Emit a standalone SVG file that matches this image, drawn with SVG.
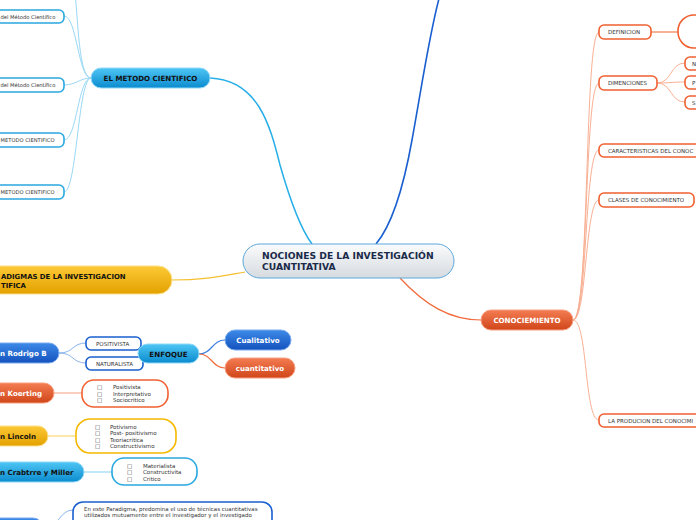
<svg xmlns="http://www.w3.org/2000/svg" width="696" height="520" viewBox="0 0 696 520">
<defs>
<linearGradient id="gLB" x1="0" y1="0" x2="0" y2="1"><stop offset="0" stop-color="#4ec6f4"/><stop offset="1" stop-color="#0b8bcf"/></linearGradient>
<linearGradient id="gDB" x1="0" y1="0" x2="0" y2="1"><stop offset="0" stop-color="#3d8ae8"/><stop offset="1" stop-color="#1452bd"/></linearGradient>
<linearGradient id="gOR" x1="0" y1="0" x2="0" y2="1"><stop offset="0" stop-color="#f47c52"/><stop offset="1" stop-color="#d0461a"/></linearGradient>
<linearGradient id="gYE" x1="0" y1="0" x2="0" y2="1"><stop offset="0" stop-color="#fcc935"/><stop offset="1" stop-color="#e3a100"/></linearGradient>
<linearGradient id="gCE" x1="0" y1="0" x2="0" y2="1"><stop offset="0" stop-color="#fafbfc"/><stop offset="1" stop-color="#d6dbe0"/></linearGradient>
</defs>
<style>
text{font-family:"DejaVu Sans",Verdana,sans-serif}
.main{font-size:7.1px;font-weight:bold;text-anchor:middle}
.lbl{font-size:7.1px;font-weight:bold}
.sub{font-size:5.5px;fill:#333}
.subs{font-size:5.2px;fill:#333}
.w{fill:#fff}
.d{fill:#111}
.sb{fill:#fff;stroke-width:1.6}
.c{fill:none}
</style>
<g id="connectors" class="c">
<path d="M312,244 C300,228 290,200 280,165 C270,125 258,80 210,78" stroke="#26aee8" stroke-width="1.5"/>
<path d="M376,244 C392,225 403,190 412,140 C422,85 430,30 440,-5" stroke="#1a5fd0" stroke-width="1.6"/>
<path d="M172,280 C205,280 222,276 245,272" stroke="#f5c030" stroke-width="1.2"/>
<path d="M400,278 C425,305 450,320 481,320" stroke="#f06a3a" stroke-width="1.2"/>
<g stroke="#9ad8f6" stroke-width="1">
<path d="M91,78 C77,78 78,0 74,-10"/>
<path d="M91,78 C78,78 77,16 64,16"/>
<path d="M91,78 C80,78 76,85 64,85"/>
<path d="M91,78 C78,78 77,140 64,140"/>
<path d="M91,78 C78,78 77,192 64,192"/>
</g>
<g stroke="#f8b094" stroke-width="1">
<path d="M573,320 C590,320 584,32 599,32"/>
<path d="M573,320 C589,320 584,83 599,83"/>
<path d="M573,320 C588,320 584,150 599,150"/>
<path d="M573,320 C587,320 585,200 599,200"/>
<path d="M573,320 C588,320 584,420 599,420"/>
<path d="M657,83 C672,83 670,63 685,63"/>
<path d="M657,83 C670,83 672,82 685,82"/>
<path d="M657,83 C672,83 670,102 685,102"/>
</g>
<path d="M651,32 L678,32" stroke="#f8b094" stroke-width="2"/>
<g stroke="#8ab4ec" stroke-width="1">
<path d="M59,353 C74,353 72,343 86,343"/>
<path d="M59,353 C74,353 72,363 86,363"/>
<path d="M45,526 C60,526 60,510 73,510"/>
</g>
<path d="M199,354 C212,354 212,340 225,340" stroke="#3a7ee0" stroke-width="1.2"/>
<path d="M199,354 C212,354 212,368 225,368" stroke="#f06a3a" stroke-width="1.2"/>
<path d="M54,393 L82,393" stroke="#f8b094" stroke-width="1.2"/>
<path d="M48,436 L76,436" stroke="#fcd870" stroke-width="1.2"/>
<path d="M84,472 L112,472" stroke="#9ad8f6" stroke-width="1.2"/>
</g>

<g id="central">
<rect x="243" y="244" width="211" height="34" rx="17" fill="url(#gCE)" stroke="#5aa8dc" stroke-width="1"/>
<text x="262" y="259" font-size="9.2" font-weight="bold" fill="#1a2a4a">NOCIONES DE LA INVESTIGACIÓN</text>
<text x="262" y="270" font-size="9.2" font-weight="bold" fill="#1a2a4a">CUANTITATIVA</text>
</g>

<g id="metodo">
<rect x="91" y="68" width="119" height="20" rx="10" fill="url(#gLB)" stroke="#8fd8f8" stroke-width="1"/>
<text class="main d" x="150.5" y="80.6">EL METODO CIENTIFICO</text>
</g>
<g id="metodo1"><rect class="sb" x="-40" y="10" width="104" height="13" rx="5" stroke="#29a8e0"/><text class="subs" x="0.5" y="18.5">del Método Científico</text></g>
<g id="metodo2"><rect class="sb" x="-40" y="78" width="104" height="14" rx="5" stroke="#29a8e0"/><text class="subs" x="0.5" y="87">del Método Científico</text></g>
<g id="metodo3"><rect class="sb" x="-40" y="133" width="104" height="14" rx="5" stroke="#29a8e0"/><text class="subs" x="0.5" y="142">METODO CIENTIFICO</text></g>
<g id="metodo4"><rect class="sb" x="-40" y="185" width="104" height="14" rx="5" stroke="#29a8e0"/><text class="subs" x="0.5" y="194">METODO CIENTIFICO</text></g>

<g id="paradigmas">
<rect x="-40" y="266" width="212" height="28" rx="14" fill="url(#gYE)" stroke="#fde08a" stroke-width="1"/>
<text class="d" x="1" y="279" font-size="6.9" font-weight="bold">ADIGMAS DE LA INVESTIGACION</text>
<text class="d" x="1" y="288" font-size="6.9" font-weight="bold">TIFICA</text>
</g>

<g id="conociemiento">
<rect x="481" y="310" width="92" height="20" rx="10" fill="url(#gOR)" stroke="#f8a080" stroke-width="1"/>
<text class="main w" x="527" y="322.5">CONOCIEMIENTO</text>
</g>
<g id="definicion"><rect class="sb" x="599" y="25" width="52" height="14" rx="5" stroke="#f06030"/><text class="sub" x="608" y="34">DEFINICION</text></g>
<g id="definicion-box"><rect class="sb" x="678" y="15" width="60" height="33" rx="16" stroke="#f06030"/></g>
<g id="dimenciones"><rect class="sb" x="599" y="76" width="58" height="14" rx="5" stroke="#f06030"/><text class="sub" x="608" y="85">DIMENCIONES</text></g>
<g id="dim1"><rect class="sb" x="685" y="57" width="30" height="13" rx="5" stroke="#f06030"/><text class="sub" x="692" y="65.5">N</text></g>
<g id="dim2"><rect class="sb" x="685" y="76" width="30" height="13" rx="5" stroke="#f06030"/><text class="sub" x="692" y="84.5">P</text></g>
<g id="dim3"><rect class="sb" x="685" y="96" width="30" height="13" rx="5" stroke="#f06030"/><text class="sub" x="692" y="104.5">S</text></g>
<g id="caracteristicas"><rect class="sb" x="599" y="144" width="120" height="13" rx="5" stroke="#f06030"/><text class="sub" x="608" y="152.5">CARACTERISTICAS DEL CONOC</text></g>
<g id="clases"><rect class="sb" x="599" y="193" width="95" height="14" rx="5" stroke="#f06030"/><text class="sub" x="608" y="202">CLASES DE CONOCIMIENTO</text></g>
<g id="produccion"><rect class="sb" x="599" y="414" width="120" height="13" rx="5" stroke="#f06030"/><text class="sub" x="608" y="422.5">LA PRODUCION DEL CONOCIMI</text></g>

<g id="rodrigo">
<rect x="-30" y="343" width="89" height="20" rx="10" fill="url(#gDB)" stroke="#7aaaf0" stroke-width="1"/>
<text class="lbl w" x="0" y="355.6">n Rodrigo B</text>
</g>
<g id="positivista"><rect class="sb" x="86" y="337" width="55" height="13" rx="5" stroke="#1a5fd0"/><text class="sub" x="96" y="345.5">POSITIVISTA</text></g>
<g id="naturalista"><rect class="sb" x="86" y="357" width="57" height="13" rx="5" stroke="#1a5fd0"/><text class="sub" x="96" y="365.5">NATURALISTA</text></g>
<g id="enfoque">
<rect x="138" y="344" width="61" height="19" rx="9.5" fill="url(#gLB)" stroke="#8fd8f8" stroke-width="1"/>
<text class="main d" x="168.5" y="356.5">ENFOQUE</text>
</g>
<g id="cualitativo">
<rect x="225" y="330" width="66" height="20" rx="10" fill="url(#gDB)" stroke="#7aaaf0" stroke-width="1"/>
<text class="main w" x="258" y="342.5">Cualitativo</text>
</g>
<g id="cuantitativo">
<rect x="225" y="358" width="70" height="20" rx="10" fill="url(#gOR)" stroke="#f8a080" stroke-width="1"/>
<text class="main w" x="260" y="370.8">cuantitativo</text>
</g>

<g id="koerting">
<rect x="-30" y="383" width="84" height="20" rx="10" fill="url(#gOR)" stroke="#f8a080" stroke-width="1"/>
<text class="lbl w" x="0" y="395.5">n Koerting</text>
</g>
<g id="koerting-list">
<rect class="sb" x="82" y="380" width="86" height="27" rx="12" stroke="#f06030"/>
<text class="sub" x="97" y="389">□</text><text class="sub" x="113" y="389">Positivista</text>
<text class="sub" x="97" y="395.5">□</text><text class="sub" x="113" y="395.5">Interpretativo</text>
<text class="sub" x="97" y="401.5">□</text><text class="sub" x="113" y="401.5">Sociocritico</text>
</g>

<g id="lincoln">
<rect x="-30" y="426" width="78" height="20" rx="10" fill="url(#gYE)" stroke="#fde08a" stroke-width="1"/>
<text class="lbl d" x="0" y="438.5">n Lincoln</text>
</g>
<g id="lincoln-list">
<rect class="sb" x="76" y="419" width="100" height="34" rx="14" stroke="#f5b800"/>
<text class="sub" x="95" y="429">□</text><text class="sub" x="110" y="429">Potivismo</text>
<text class="sub" x="95" y="435">□</text><text class="sub" x="110" y="435">Post- positivismo</text>
<text class="sub" x="95" y="441.5">□</text><text class="sub" x="110" y="441.5">Teoriacritica</text>
<text class="sub" x="95" y="447.5">□</text><text class="sub" x="110" y="447.5">Constructivismo</text>
</g>

<g id="crabtree">
<rect x="-30" y="462" width="114" height="20" rx="10" fill="url(#gLB)" stroke="#8fd8f8" stroke-width="1"/>
<text class="lbl d" x="0" y="474.5">n Crabtrre y Miller</text>
</g>
<g id="crabtree-list">
<rect class="sb" x="112" y="458" width="85" height="27" rx="12" stroke="#29a8e0"/>
<text class="sub" x="127" y="468">□</text><text class="sub" x="143" y="468">Materialista</text>
<text class="sub" x="127" y="474">□</text><text class="sub" x="143" y="474">Constructivita</text>
<text class="sub" x="127" y="480.5">□</text><text class="sub" x="143" y="480.5">Critico</text>
</g>

<g id="bottom-node">
<rect x="-30" y="518" width="73" height="20" rx="10" fill="url(#gDB)" stroke="#7aaaf0" stroke-width="1"/>
</g>
<g id="bottom-text">
<rect class="sb" x="73" y="502" width="199" height="30" rx="10" stroke="#1a5fd0"/>
<text class="sub" x="84" y="510.5">En este Paradigma, predomina el uso de técnicas cuantitativas</text>
<text class="sub" x="84" y="516.5">utilizados mutuamente entre el investigador y el investigado</text>
</g>
</svg>
